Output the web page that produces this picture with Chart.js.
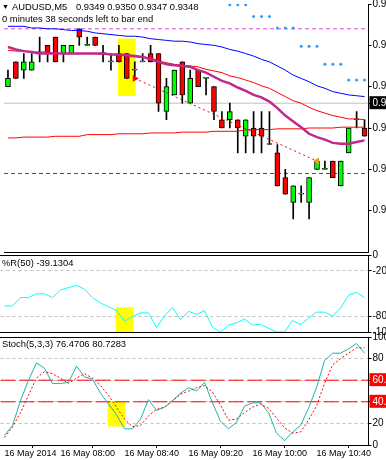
<!DOCTYPE html>
<html lang="en">
<head>
<meta charset="UTF-8">
<title>AUDUSD,M5</title>
<script src="https://cdn.jsdelivr.net/npm/chart.js@4"></script>
<style>
    body { margin: 0; background: #fff; }
    #wrap { position: relative; width: 386px; height: 460px; overflow: hidden; font-family: "Liberation Sans", Arial, sans-serif; }
    #wrap canvas { position: absolute; left: 0; }
    .txt { position: absolute; font-size: 9.4px; line-height: 12px; color: #000; white-space: nowrap; z-index: 5; }
</style>
</head>
<body>
<div id="wrap">
    <canvas id="mainChart" width="386" height="262" style="top:0"></canvas>
    <canvas id="wprChart" width="386" height="96" style="top:246px"></canvas>
    <canvas id="stochChart" width="386" height="133" style="top:327px"></canvas>
    <div class="txt" style="top:1px; left:2px; font-size:7px">▼</div>
    <div class="txt" style="top:1px; left:12px">AUDUSD,M5</div>
    <div class="txt" style="top:1px; left:76px">0.9349 0.9350 0.9347 0.9348</div>
    <div class="txt" style="top:13px; left:2px">0 minutes 38 seconds left to bar end</div>
    <div class="txt" style="top:257px; left:2px">%R(50) -39.1304</div>
    <div class="txt" style="top:338px; left:2px">Stoch(5,3,3) 76.4706 80.7283</div>
</div>
<script>
// bars (M5, 16 May 2014)
const categories = ['07:25','07:30','07:35','07:40','07:45','07:50','07:55','08:00','08:05','08:10',
    '08:15','08:20','08:25','08:30','08:35','08:40','08:45','08:50','08:55','09:00',
    '09:05','09:10','09:15','09:20','09:25','09:30','09:35','09:40','09:45','09:50',
    '09:55','10:00','10:05','10:10','10:15','10:20','10:25','10:30','10:35','10:40',
    '10:45','10:50','10:55','11:00','11:05','11:10'];
const labelIndexes = [0, 7, 15, 23, 31, 39];

const opens = [0.9350,0.9353,0.9352,0.9352,0.9354,0.9355,0.9356,0.9354,0.9354,0.9357,
    0.9355,0.9356,0.9354,0.9353,0.9354,0.9354,0.9352,0.9353,0.9354,0.9354,
    0.9347,0.9349,0.9353,0.9348,0.9352,0.9351,0.9350,0.9346,0.9346,0.9346,
    0.9344,0.9345,0.9345,0.9343,0.9342,0.9339,0.9336,0.9337,0.9336,0.9340,
    0.9340,0.9341,0.9338,0.9342,0.9346,0.9345];
const highs = [0.9352,0.9353,0.9354,0.9354,0.9356,0.9355,0.9356,0.9355,0.9355,0.9357,
    0.9356,0.9356,0.9355,0.9354,0.9355,0.9354,0.9353,0.9354,0.9355,0.9354,
    0.9351,0.9352,0.9353,0.9352,0.9352,0.9351,0.9350,0.9347,0.9348,0.9346,
    0.9346,0.9347,0.9347,0.9347,0.9343,0.9340,0.9338,0.9338,0.9339,0.9341,
    0.9341,0.9341,0.9341,0.9345,0.9347,0.9346];
const lows = [0.9350,0.9351,0.9351,0.9352,0.9353,0.9353,0.9353,0.9353,0.9354,0.9355,
    0.9355,0.9355,0.9353,0.9352,0.9353,0.9351,0.9351,0.9353,0.9353,0.9347,
    0.9346,0.9349,0.9348,0.9348,0.9350,0.9349,0.9346,0.9345,0.9345,0.9342,
    0.9342,0.9342,0.9342,0.9343,0.9338,0.9337,0.9334,0.9336,0.9334,0.9340,
    0.9340,0.9339,0.9338,0.9342,0.9345,0.9344];
const closes = [0.9351,0.9351,0.9353,0.9353,0.9354,0.9354,0.9353,0.9355,0.9355,0.9356,
    0.9355,0.9355,0.9354,0.9353,0.9353,0.9351,0.9352,0.9353,0.9353,0.9348,
    0.9350,0.9352,0.9349,0.9351,0.9350,0.9351,0.9347,0.9345,0.9347,0.9345,
    0.9346,0.9344,0.9344,0.9343,0.9338,0.9337,0.9338,0.9337,0.9339,0.9341,
    0.9340,0.9339,0.9341,0.9345,0.9346,0.9344];

// moving averages on the price panel
const maBlue = [0.93573,0.93573,0.93573,0.93571,0.93571,0.93570,0.93570,0.93569,0.93568,0.93568,
    0.93567,0.93565,0.93564,0.93563,0.93562,0.93561,0.93561,0.93560,0.93558,0.93557,
    0.93556,0.93555,0.93555,0.93554,0.93552,0.93551,0.93550,0.93548,0.93545,0.93543,
    0.93540,0.93537,0.93533,0.93530,0.93525,0.93520,0.93514,0.93510,0.93506,0.93501,
    0.93498,0.93494,0.93492,0.93490,0.93489,0.93488];
const maRed = [0.93544,0.93543,0.93543,0.93542,0.93542,0.93542,0.93540,0.93540,0.93540,0.93540,
    0.93540,0.93540,0.93539,0.93539,0.93538,0.93537,0.93536,0.93536,0.93535,0.93531,
    0.93529,0.93527,0.93526,0.93525,0.93524,0.93521,0.93519,0.93517,0.93513,0.93511,
    0.93508,0.93505,0.93501,0.93498,0.93493,0.93488,0.93483,0.93480,0.93475,0.93471,
    0.93468,0.93465,0.93463,0.93461,0.93461,0.93460];
const maMagenta = [0.93548,0.93545,0.93543,0.93542,0.93540,0.93540,0.93540,0.93540,0.93540,0.93540,
    0.93540,0.93540,0.93540,0.93539,0.93539,0.93538,0.93537,0.93536,0.93533,0.93530,
    0.93527,0.93526,0.93525,0.93524,0.93520,0.93517,0.93512,0.93507,0.93504,0.93499,
    0.93495,0.93490,0.93487,0.93482,0.93474,0.93465,0.93458,0.93451,0.93443,0.93439,
    0.93436,0.93432,0.93431,0.93431,0.93433,0.93435];
const maSlow = [0.93438,0.93438,0.93439,0.93439,0.93439,0.93439,0.93440,0.93440,0.93440,0.93440,
    0.93442,0.93442,0.93442,0.93442,0.93443,0.93443,0.93443,0.93443,0.93444,0.93444,
    0.93444,0.93444,0.93445,0.93445,0.93445,0.93445,0.93446,0.93446,0.93446,0.93446,
    0.93448,0.93448,0.93448,0.93448,0.93449,0.93449,0.93449,0.93449,0.93450,0.93450,
    0.93450,0.93450,0.93451,0.93451,0.93451,0.93451];

// dots (higher timeframe SAR), starting at bar 28
const sarStart = 28;
const sarValues = [0.93599,0.93599,0.93599,0.93585,0.93585,0.93585,0.93571,0.93571,0.93571,
    0.93549,0.93549,0.93549,0.93527,0.93527,0.93527,0.93508,0.93508,0.93508];

const priceTicks = [0.9360, 0.9355, 0.9350, 0.9345, 0.9340, 0.9335];
const bidPrice = 0.9348;
const magentaLevel = 0.9357;
const greenLevel = 0.93395;
const tradeOpen = { index: 16, price: 0.9351 };
const tradeClose = { index: 39, price: 0.9341 };
const highlightMain = { index: 15, from: 0.93558, to: 0.93489 };

// Williams %R(50)
const wprValues = [-66,-66,-55,-55,-50,-50,-55,-45,-42,-39,
    -44,-55,-62,-67,-72,-86,-80,-75,-75,-94,
    -79,-68,-84,-73,-77,-72,-94,-100,-91,-88,
    -83,-91,-90,-95,-100,-100,-85,-90,-82,-74,
    -74,-79,-69,-52,-48,-55];
const wprTicks = [-100, -80, -20, 0];
const wprLevels = [-20, -80];
const highlightWpr = { index: 15, from: -68, to: -100 };

// Stochastic(5,3,3)
const stochMain = [9,18,41,60,76,71,57,57,58,73,
    63,61,48,38,28,15,15,24,42,32,
    35,41,48,53,50,58,39,22,15,21,
    36,39,39,30,11,4,12,18,34,53,
    78,85,85,89,94,85];
const stochSignal = [7,16.5,30,46,62,68,66,62,57,62,
    66,62,55,46,35,24,17,18,27,33,
    35,41,47,50,53,55,49,37,23,24,
    30,35,38,34,25,16,11,12,23,36,
    57,74,80,85,90,90];
const stochTicks = [0, 20, 40, 60, 80, 100];
const stochLevels = [80, 60, 40, 20];
const stochRedLevels = [60, 40];
const highlightStoch = { index: 14, from: 40, to: 17.5 };

const fontFamily = '"Liberation Sans", Arial, sans-serif';
const axisFont = { family: fontFamily, size: 10 };
const timeFont = { family: fontFamily, size: 9 };
const yAxisWidth = 17.5;

// fixed axis width, no extra label padding around the plot area
function fitY(s) {
    s.width = yAxisWidth;
    s.paddingTop = 0;
    s.paddingBottom = 0;
}

function hLine(value, color, dash, width) {
    return {
        type: 'line', xAxisID: 'xFull',
        data: [{ x: 0, y: value }, { x: 1, y: value }],
        borderColor: color, borderWidth: width || 1, borderDash: dash || [],
        pointRadius: 0, order: 8
    };
}

function maLine(values, color, width) {
    return {
        type: 'line', data: values, borderColor: color, borderWidth: width,
        pointRadius: 0, tension: 0, order: 1
    };
}

function highlightBar(h) {
    return {
        type: 'bar', data: [{ x: categories[h.index], y: [h.from, h.to] }],
        backgroundColor: '#ffff00', barThickness: 17, grouped: false, order: 10
    };
}

function baseOptions(padding) {
    return {
        responsive: false, maintainAspectRatio: false, devicePixelRatio: 1, animation: false,
        layout: { padding: padding },
        plugins: { legend: { display: false }, tooltip: { enabled: false } },
        events: []
    };
}

function hiddenBorderX(position) {
    return {
        type: 'category', position: position,
        ticks: { display: false },
        grid: { display: false, drawTicks: false },
        border: { display: true, color: '#000', width: 1 },
        afterFit: s => { s.height = 0; s.paddingLeft = 0; s.paddingRight = 0; }
    };
}

// ---------- price panel ----------
const bodyColors = closes.map((c, i) => (c >= opens[i] ? '#00ff00' : '#ff0000'));

new Chart(document.getElementById('mainChart'), {
    data: {
        labels: categories,
        datasets: [
            maLine(maMagenta, '#c0288c', 2.5),
            maLine(maRed, '#ff0000', 1),
            maLine(maBlue, '#0000ff', 1),
            maLine(maSlow, '#ff0000', 1),
            {
                type: 'line',
                data: sarValues.map((v, i) => ({ x: categories[sarStart + i], y: v })),
                showLine: false, pointRadius: 1.5, pointBorderWidth: 0,
                pointBackgroundColor: '#2f9bff', order: 0
            },
            {
                type: 'line',
                data: [{ x: categories[tradeOpen.index], y: tradeOpen.price },
                       { x: categories[tradeClose.index], y: tradeClose.price }],
                borderColor: '#ff0000', borderWidth: 1, borderDash: [2, 3],
                pointStyle: 'triangle', pointRadius: 4, pointBorderWidth: 0,
                pointRotation: [90, -90],
                pointBackgroundColor: ['#ff0000', '#e0a020'], order: 0
            },
            {
                type: 'bar', data: opens.map((o, i) => [o, closes[i]]),
                backgroundColor: bodyColors, borderColor: '#000', borderWidth: 1,
                borderSkipped: false, barThickness: 5, minBarLength: 1, grouped: false, order: 4
            },
            {
                type: 'bar', data: lows.map((l, i) => [l, highs[i]]),
                backgroundColor: '#000', barThickness: 1, grouped: false, order: 5
            },
            highlightBar(highlightMain),
            hLine(bidPrice, '#c0c0c0'),
            hLine(magentaLevel, '#e040e0', [4, 3]),
            hLine(greenLevel, '#008000', [4, 3])
        ]
    },
    options: Object.assign(baseOptions({ left: 0.5, top: 0, right: 0, bottom: 10 }), {
        scales: {
            x: hiddenBorderX('bottom'),
            xFull: { type: 'linear', display: false, min: 0, max: 1 },
            y: {
                position: 'right', min: 0.9330, max: 0.9360,
                afterBuildTicks: s => { s.ticks = priceTicks.concat([bidPrice]).sort().map(v => ({ value: v })); },
                afterFit: fitY,
                ticks: {
                    font: axisFont, padding: 1, autoSkip: false,
                    callback: v => v.toFixed(4),
                    color: ctx => (ctx.tick && ctx.tick.value === bidPrice ? '#fff' : '#000'),
                    showLabelBackdrop: ctx => !!(ctx.tick && ctx.tick.value === bidPrice),
                    backdropColor: '#000',
                    backdropPadding: { left: 3, right: 3, top: 1, bottom: 0 }
                },
                grid: { drawOnChartArea: false, drawTicks: true, tickLength: 3, tickColor: '#000' },
                border: { display: true, color: '#000' }
            }
        }
    })
});

// ---------- Williams %R panel ----------
new Chart(document.getElementById('wprChart'), {
    data: {
        labels: categories,
        datasets: [
            { type: 'line', data: wprValues, borderColor: '#00ffff', borderWidth: 1, pointRadius: 0, tension: 0, order: 1 },
            highlightBar(highlightWpr)
        ]
    },
    options: Object.assign(baseOptions({ left: 0.5, top: 9.5, right: 0, bottom: 10 }), {
        scales: {
            x: hiddenBorderX('bottom'),
            xTop: hiddenBorderX('top'),
            y: {
                position: 'right', min: -100, max: 0,
                afterBuildTicks: s => { s.ticks = wprTicks.map(v => ({ value: v })); },
                afterFit: fitY,
                ticks: { font: axisFont, color: '#000', padding: 1, autoSkip: false, callback: v => String(v) },
                grid: {
                    color: ctx => (ctx.tick && wprLevels.includes(ctx.tick.value) ? '#c0c0c0' : 'rgba(0,0,0,0)'),
                    drawTicks: true, tickLength: 3, tickColor: '#000', tickBorderDash: []
                },
                border: { display: true, color: '#000', dash: [3, 3] }
            }
        }
    })
});

// ---------- Stochastic panel ----------
new Chart(document.getElementById('stochChart'), {
    data: {
        labels: categories,
        datasets: [
            { type: 'line', data: stochMain, borderColor: '#20b2aa', borderWidth: 1, pointRadius: 0, tension: 0, order: 1 },
            { type: 'line', data: stochSignal, borderColor: '#ff0000', borderWidth: 1, borderDash: [2, 2], pointRadius: 0, tension: 0, order: 0 },
            highlightBar(highlightStoch),
            hLine(stochRedLevels[0], '#ff0000', [15, 4]),
            hLine(stochRedLevels[1], '#ff0000', [15, 4])
        ]
    },
    options: Object.assign(baseOptions({ left: 0.5, top: 10, right: 0, bottom: 0 }), {
        scales: {
            x: {
                type: 'category', position: 'bottom',
                afterBuildTicks: s => { s.ticks = s.ticks.filter(t => labelIndexes.includes(t.value)); },
                afterFit: s => { s.height = 15; s.paddingLeft = 0; s.paddingRight = 0; },
                ticks: {
                    font: timeFont, color: '#000', align: 'start', autoSkip: false,
                    maxRotation: 0, padding: 0,
                    callback: function (v) { return v === 0 ? '16 May 2014' : '16 May ' + this.getLabelForValue(v); }
                },
                grid: { drawOnChartArea: false, drawTicks: true, tickLength: 3, tickColor: '#000' },
                border: { display: true, color: '#000' }
            },
            xTop: hiddenBorderX('top'),
            xFull: { type: 'linear', display: false, min: 0, max: 1 },
            y: {
                position: 'right', min: 0, max: 100,
                afterBuildTicks: s => { s.ticks = stochTicks.map(v => ({ value: v })); },
                afterFit: fitY,
                ticks: {
                    font: axisFont, padding: 1, autoSkip: false,
                    callback: v => (stochRedLevels.includes(v) ? v.toFixed(4) : String(v)),
                    color: ctx => (ctx.tick && stochRedLevels.includes(ctx.tick.value) ? '#fff' : '#000'),
                    showLabelBackdrop: ctx => !!(ctx.tick && stochRedLevels.includes(ctx.tick.value)),
                    backdropColor: '#ff0000',
                    backdropPadding: { left: 3, right: 3, top: 1, bottom: 0 }
                },
                grid: {
                    color: ctx => (ctx.tick && stochLevels.includes(ctx.tick.value) ? '#c0c0c0' : 'rgba(0,0,0,0)'),
                    drawTicks: true, tickLength: 3, tickColor: '#000', tickBorderDash: []
                },
                border: { display: true, color: '#000', dash: [3, 3] }
            }
        }
    })
});
</script>
</body>
</html>
